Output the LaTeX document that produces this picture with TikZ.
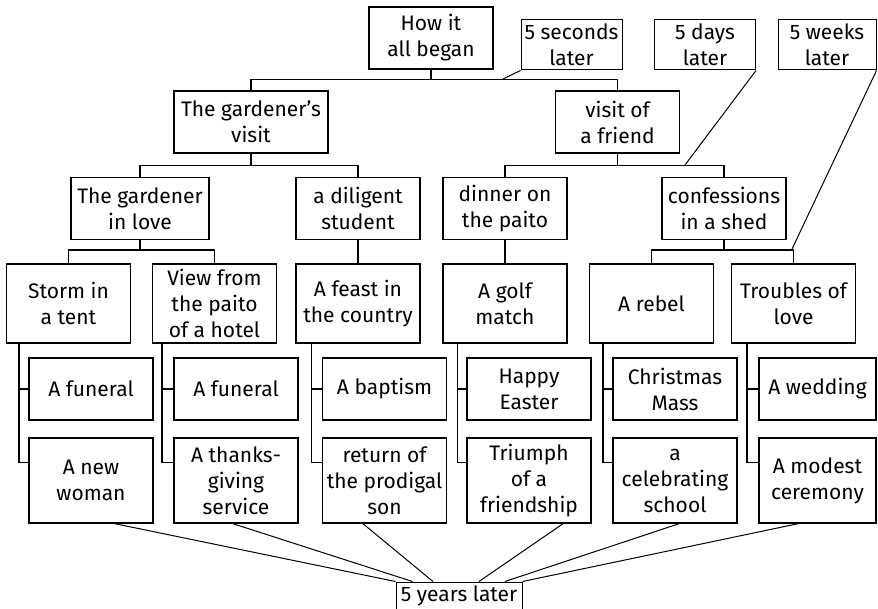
\documentclass[tikz,border=0pt]{standalone}
\usepackage{fontspec}
\setmainfont{Fira Sans}
\begin{document}
\begin{tikzpicture}[x=0.5pt,y=-0.5pt,
    every node/.style={font=\fontsize{10.5}{13}\selectfont},
    box/.style={draw,line width=0.7pt,align=center,inner sep=0pt,minimum width=62pt,minimum height=31pt},
    tall/.style={box,minimum height=39.5pt},
    leaf/.style={box,minimum height=42.5pt},
    later/.style={draw,line width=0.5pt,align=center,inner sep=0pt,minimum width=50.5pt,minimum height=25pt},
    tree/.style={line width=0.8pt},
    timeline/.style={line width=0.5pt}]
    \useasboundingbox (0,0) rectangle (878,609);
    \clip (0,0) rectangle (878,609);
    % top of the tree
    \node[box] (begin) at (431,38) {How it\\all began};
    \node[later] (sec) at (571.5,45) {5 seconds\\later};
    \node[later] (days) at (705,45) {5 days\\later};
    \node[later,minimum width=49pt] (weeks) at (827,45) {5 weeks\\later};
    \node[box,minimum width=77pt] (gvisit) at (251,122) {The gardener's\\visit};
    \node[box] (friend) at (617.5,122) {visit of\\a friend};
    \node[box,minimum width=69pt] (love) at (140,208.5) {The gardener\\in love};
    \node[box] (student) at (358,208.5) {a diligent\\student};
    \node[box] (dinner) at (505,208.5) {dinner on\\the paito};
    \node[box] (shed) at (724,208.5) {confessions\\in a shed};
    % stories
    \node[tall] (storm) at (68.5,303.5) {Storm in\\a tent};
    \node[tall] (view) at (214.5,303.5) {View from\\the paito\\of a hotel};
    \node[tall] (feast) at (358,303.5) {A feast in\\the country};
    \node[tall] (golf) at (505,303.5) {A golf\\match};
    \node[tall] (rebel) at (651.5,303.5) {A rebel};
    \node[tall] (troubles) at (793.5,303.5) {Troubles of\\love};
    % endings
    \node[box] (funeralA) at (91,389) {A funeral};
    \node[leaf] (woman) at (91,480.5) {A new\\woman};
    \node[box] (funeralB) at (236,389) {A funeral};
    \node[leaf] (service) at (236,480.5) {A thanks-\\giving\\service};
    \node[box] (baptism) at (384.5,389) {A baptism};
    \node[leaf] (prodigal) at (384.5,480.5) {return of\\the prodigal\\son};
    \node[box] (easter) at (529,389) {Happy\\Easter};
    \node[leaf] (friendship) at (529,480.5) {Triumph\\of a\\friendship};
    \node[box] (mass) at (675,389) {Christmas\\Mass};
    \node[leaf] (school) at (675,480.5) {a\\celebrating\\school};
    \node[box,minimum width=58.5pt] (wedding) at (817.5,389) {A wedding};
    \node[leaf,minimum width=58.5pt] (ceremony) at (817.5,480.5) {A modest\\ceremony};
    \node[later,minimum width=63pt,minimum height=14pt] (years) at (459,596) {5 years later};
    % tree
    \draw[tree] (begin.south) -- ++(0,10) -| (gvisit.north);
    \draw[tree] (begin.south) -- ++(0,10) -| (friend.north);
    \draw[tree] (gvisit.south) -- ++(0,12) -| (love.north);
    \draw[tree] (gvisit.south) -- ++(0,12) -| (student.north);
    \draw[tree] (friend.south) -- ++(0,12) -| (dinner.north);
    \draw[tree] (friend.south) -- ++(0,12) -| (shed.north);
    \draw[tree] (love.south) -- ++(0,10) -| (storm.north);
    \draw[tree] (love.south) -- ++(0,10) -| (view.north);
    \draw[tree] (student.south) -- (feast.north);
    \draw[tree] (dinner.south) -- (golf.north);
    \draw[tree] (shed.south) -- ++(0,10) -| (rebel.north);
    \draw[tree] (shed.south) -- ++(0,10) -| (troubles.north);
    \draw[tree] ([xshift=6.5pt]storm.south west) |- (funeralA.west);
    \draw[tree] ([xshift=6.5pt]storm.south west) |- ([yshift=-12.5pt]woman.north west);
    \draw[tree] ([xshift=5pt]view.south west) |- (funeralB.west);
    \draw[tree] ([xshift=5pt]view.south west) |- ([yshift=-12.5pt]service.north west);
    \draw[tree] ([xshift=8pt]feast.south west) |- (baptism.west);
    \draw[tree] ([xshift=8pt]feast.south west) |- ([yshift=-12.5pt]prodigal.north west);
    \draw[tree] ([xshift=7.5pt]golf.south west) |- (easter.west);
    \draw[tree] ([xshift=7.5pt]golf.south west) |- ([yshift=-12.5pt]friendship.north west);
    \draw[tree] ([xshift=7pt]rebel.south west) |- (mass.west);
    \draw[tree] ([xshift=7pt]rebel.south west) |- ([yshift=-12.5pt]school.north west);
    \draw[tree] ([xshift=8pt]troubles.south west) |- (wedding.west);
    \draw[tree] ([xshift=8pt]troubles.south west) |- ([yshift=-12.5pt]ceremony.north west);
    % time marks
    \coordinate (secend) at (503,79);
    \coordinate (daysend) at (685,165);
    \coordinate (weeksend) at (792,249);
    \draw[timeline] (sec.south west) -- (secend);
    \draw[timeline] (days.south east) -- (daysend);
    \draw[timeline] (weeks.south east) -- (weeksend);
    \draw[timeline] ([xshift=12pt]woman.south) -- (years.north west);
    \draw[timeline] ([xshift=-1.5pt]service.south) -- ([xshift=8.5pt]years.north west);
    \draw[timeline] ([xshift=-10.75pt]prodigal.south) -- ([xshift=-13pt]years.north);
    \draw[timeline] ([xshift=17pt]friendship.south) -- ([xshift=10pt]years.north);
    \draw[timeline] ([xshift=2pt]school.south) -- ([xshift=23pt]years.north);
    \draw[timeline] ([xshift=-9.75pt]ceremony.south) -- (years.north east);
\end{tikzpicture}
\end{document}
